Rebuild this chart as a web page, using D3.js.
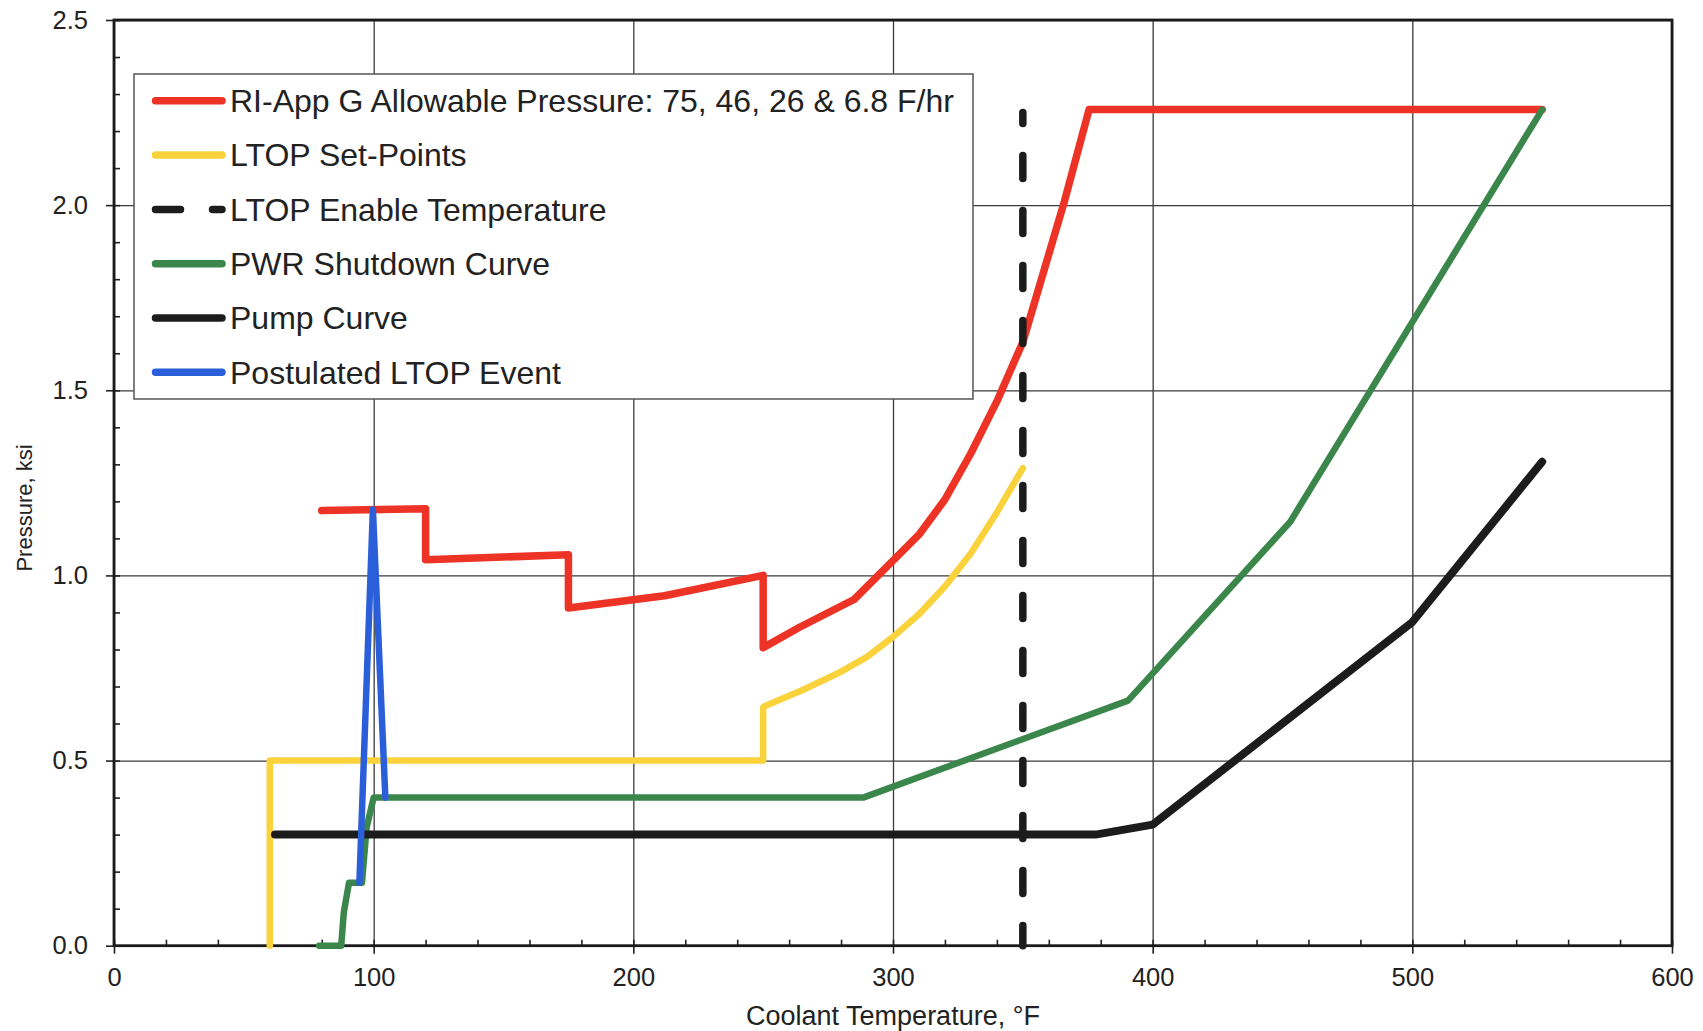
<!DOCTYPE html>
<html>
<head>
<meta charset="utf-8">
<script src="https://cdn.jsdelivr.net/npm/d3@7"></script>
<style>
  html, body { margin: 0; padding: 0; background: #fff; }
  svg { display: block; font-family: "Liberation Sans", Arial, sans-serif; }
</style>
</head>
<body>
<svg id="chart" width="1703" height="1031"></svg>
<script>
// ---------------- data ----------------
const xTickValues = [0, 100, 200, 300, 400, 500, 600];
const yTickValues = [0, 0.5, 1.0, 1.5, 2.0, 2.5];
const xTitle = "Coolant Temperature, °F";
const yTitle = "Pressure, ksi";

const seriesNames = [
  "RI-App G Allowable Pressure: 75, 46, 26 & 6.8 F/hr",
  "LTOP Set-Points",
  "LTOP Enable Temperature",
  "PWR Shutdown Curve",
  "Pump Curve",
  "Postulated LTOP Event"
];

// [temperature °F, pressure ksi]
const allowablePressure = [[80,1.175],[120,1.18],[120,1.042],[175,1.056],[175,0.912],[212,0.945],[250,1.0],[250,0.805],[264,0.86],[285,0.935],[300,1.04],[310,1.11],[320,1.205],[330,1.33],[340,1.47],[350,1.63],[366,2.01],[375.5,2.258],[550,2.258]];
const ltopSetPoints = [[60,0],[60,0.5],[250,0.5],[250,0.645],[265,0.69],[280,0.74],[290,0.78],[300,0.834],[310,0.895],[320,0.97],[330,1.06],[340,1.17],[350,1.29]];
const ltopEnableTemp = [[350,2.25],[350,0]];
const shutdownCurve = [[79,0],[87.5,0],[88.5,0.09],[90.5,0.17],[95.5,0.17],[97.3,0.32],[100,0.40],[288.5,0.40],[390.5,0.662],[453,1.145],[550,2.258]];
const pumpCurve = [[62,0.30],[378,0.30],[400,0.327],[500,0.874],[550,1.307]];
const ltopEvent = [[94.5,0.17],[99.7,1.178],[104.5,0.40]];

// ---------------- layout ----------------
const svg = d3.select("#chart");
const L = 114, R = 1672, T = 20, B = 945.7;
const x = d3.scaleLinear().domain([0, 600]).range([L, R]);
const y = d3.scaleLinear().domain([0, 2.5]).range([B, T]);

const styles = [
  { color: "#ED3326", width: 7.5, dash: null },
  { color: "#F9D23C", width: 6.5, dash: null },
  { color: "#1C1C1C", width: 7.5, dash: "23,32" },
  { color: "#3B874B", width: 6.5, dash: null },
  { color: "#1C1C1C", width: 8,   dash: null },
  { color: "#2B5FD9", width: 6.5, dash: null }
];
const seriesData = [allowablePressure, ltopSetPoints, ltopEnableTemp, shutdownCurve, pumpCurve, ltopEvent];

// grid
svg.append("g").attr("transform", `translate(0,${B})`)
  .call(d3.axisBottom(x).tickValues(xTickValues).tickSize(-(B - T)).tickFormat(""))
  .call(g => g.select(".domain").remove())
  .selectAll("line").attr("stroke", "#3a3a3a").attr("stroke-width", 1.3);
svg.append("g").attr("transform", `translate(${L},0)`)
  .call(d3.axisLeft(y).tickValues(yTickValues).tickSize(-(R - L)).tickFormat(""))
  .call(g => g.select(".domain").remove())
  .selectAll("line").attr("stroke", "#3a3a3a").attr("stroke-width", 1.3);

// minor ticks (inside)
svg.append("g").attr("transform", `translate(0,${B})`)
  .call(d3.axisBottom(x).tickValues(d3.range(0, 601, 20)).tickSize(-6).tickFormat(""))
  .call(g => g.select(".domain").remove())
  .selectAll("line").attr("stroke", "#222").attr("stroke-width", 1.6);
svg.append("g").attr("transform", `translate(${L},0)`)
  .call(d3.axisLeft(y).tickValues(d3.range(0, 2.51, 0.1)).tickSize(-6).tickFormat(""))
  .call(g => g.select(".domain").remove())
  .selectAll("line").attr("stroke", "#222").attr("stroke-width", 1.6);

// major axes (outside ticks + labels)
const xAxis = svg.append("g").attr("transform", `translate(0,${B})`)
  .call(d3.axisBottom(x).tickValues(xTickValues).tickSize(8).tickPadding(14).tickFormat(d3.format("d")));
xAxis.select(".domain").remove();
xAxis.selectAll("line").attr("stroke", "#222").attr("stroke-width", 1.6);
xAxis.selectAll("text").attr("font-size", 25.5).attr("fill", "#222")
  .attr("font-family", "Liberation Sans, Arial, sans-serif");

const yAxis = svg.append("g").attr("transform", `translate(${L},0)`)
  .call(d3.axisLeft(y).tickValues(yTickValues).tickSize(8).tickPadding(18).tickFormat(d3.format(".1f")));
yAxis.select(".domain").remove();
yAxis.selectAll("line").attr("stroke", "#222").attr("stroke-width", 1.6);
yAxis.selectAll("text").attr("font-size", 25.5).attr("fill", "#222")
  .attr("font-family", "Liberation Sans, Arial, sans-serif");

// frame
svg.append("rect").attr("x", L).attr("y", T).attr("width", R - L).attr("height", B - T)
  .attr("fill", "none").attr("stroke", "#1a1a1a").attr("stroke-width", 2.8);

// axis titles
svg.append("text").attr("x", 893).attr("y", 1025)
  .attr("text-anchor", "middle").attr("font-size", 27).attr("fill", "#222").text(xTitle);
svg.append("text").attr("transform", `translate(32,508) rotate(-90)`)
  .attr("text-anchor", "middle").attr("font-size", 22).attr("fill", "#222").text(yTitle);

// legend
const lg = svg.append("g");
lg.append("rect").attr("x", 134).attr("y", 74).attr("width", 839).attr("height", 325)
  .attr("fill", "#fff").attr("stroke", "#555").attr("stroke-width", 1.5);
const rowY0 = 100.8, rowStep = 54.3;
seriesNames.forEach((name, i) => {
  const cy = rowY0 + i * rowStep;
  const s = styles[i];
  lg.append("line").attr("x1", 155.5).attr("x2", 222).attr("y1", cy).attr("y2", cy)
    .attr("stroke", s.color).attr("stroke-width", 7.5).attr("stroke-linecap", "round")
    .attr("stroke-dasharray", s.dash ? "25,32" : null);
  lg.append("text").attr("x", 230).attr("y", cy + 11.3).attr("font-size", 32)
    .attr("fill", "#222").text(name);
});

// series
const line = d3.line().x(d => x(d[0])).y(d => y(d[1]));
const drawOrder = [1, 0, 3, 4, 2, 5];
drawOrder.forEach(i => {
  const s = styles[i];
  svg.append("path").datum(seriesData[i]).attr("d", line)
    .attr("fill", "none").attr("stroke", s.color).attr("stroke-width", s.width)
    .attr("stroke-linecap", "round").attr("stroke-linejoin", "round")
    .attr("stroke-dasharray", s.dash)
    .attr("stroke-dashoffset", s.dash ? 12 : null);
});
</script>
</body>
</html>
